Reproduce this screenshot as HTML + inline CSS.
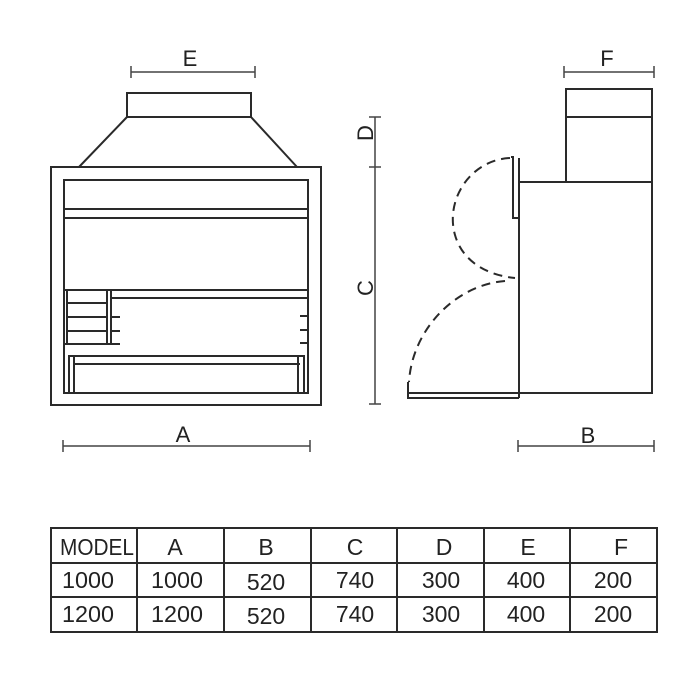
<!DOCTYPE html>
<html><head><style>
body{margin:0;background:#fff;}
svg{display:block}
text{font-family:"Liberation Sans",sans-serif;fill:#222}
</style></head><body>
<svg width="700" height="700" viewBox="0 0 700 700" xmlns="http://www.w3.org/2000/svg">
<g stroke="#2a2a2a" stroke-width="2" fill="none">
<rect x="127" y="93" width="124" height="24"/>
<line x1="127" y1="117" x2="79" y2="167"/>
<line x1="251" y1="117" x2="297" y2="167"/>
<rect x="51" y="167" width="270" height="238"/>
<rect x="64" y="180" width="244" height="213"/>
<line x1="64" y1="209" x2="308" y2="209"/>
<line x1="64" y1="218" x2="308" y2="218"/>
<line x1="64" y1="290" x2="308" y2="290"/>
<line x1="112" y1="298" x2="308" y2="298"/>
<line x1="67" y1="290" x2="67" y2="344"/>
<line x1="107" y1="290" x2="107" y2="344"/>
<line x1="111" y1="290" x2="111" y2="344"/>
<line x1="67" y1="303" x2="107" y2="303"/>
<line x1="67" y1="317" x2="107" y2="317"/>
<line x1="67" y1="331" x2="107" y2="331"/>
<line x1="64" y1="344" x2="120" y2="344"/>
<line x1="111" y1="317" x2="120" y2="317"/>
<line x1="111" y1="331" x2="120" y2="331"/>
<line x1="300" y1="316" x2="308" y2="316"/>
<line x1="300" y1="330" x2="308" y2="330"/>
<line x1="300" y1="343" x2="308" y2="343"/>
<rect x="69" y="356" width="235" height="37"/>
<line x1="73" y1="364" x2="300" y2="364"/>
<line x1="74" y1="356" x2="74" y2="393"/>
<line x1="298" y1="356" x2="298" y2="393"/>
<rect x="566" y="89" width="86" height="93"/>
<line x1="566" y1="117" x2="652" y2="117"/>
<rect x="519" y="182" width="133" height="211"/>
<line x1="519" y1="158" x2="519" y2="398"/>
<polyline points="511,157 513,157 513,218 519,218"/>
<polyline points="408,382 408,398 519,398"/>
<line x1="408" y1="393" x2="519" y2="393"/>
<path d="M510,158 C470,160 445,200 455,235 C462,260 485,275 515,278" stroke-dasharray="9,6"/>
<path d="M505,281 C455,285 412,330 409,382" stroke-dasharray="9,6"/>
<g stroke-width="1.5" stroke="#444">
<line x1="131" y1="72" x2="255" y2="72"/><line x1="131" y1="66" x2="131" y2="78"/><line x1="255" y1="66" x2="255" y2="78"/>
<line x1="564" y1="72" x2="654" y2="72"/><line x1="564" y1="66" x2="564" y2="78"/><line x1="654" y1="66" x2="654" y2="78"/>
<line x1="63" y1="446" x2="310" y2="446"/><line x1="63" y1="440" x2="63" y2="452"/><line x1="310" y1="440" x2="310" y2="452"/>
<line x1="518" y1="446" x2="654" y2="446"/><line x1="518" y1="440" x2="518" y2="452"/><line x1="654" y1="440" x2="654" y2="452"/>
<line x1="375" y1="117" x2="375" y2="404"/><line x1="369" y1="117" x2="381" y2="117"/><line x1="369" y1="167" x2="381" y2="167"/><line x1="369" y1="404" x2="381" y2="404"/>
</g>
<rect x="51" y="528" width="606" height="104"/>
<line x1="51" y1="563" x2="657" y2="563"/>
<line x1="51" y1="597" x2="657" y2="597"/>
<line x1="137" y1="528" x2="137" y2="632"/>
<line x1="224" y1="528" x2="224" y2="632"/>
<line x1="311" y1="528" x2="311" y2="632"/>
<line x1="397" y1="528" x2="397" y2="632"/>
<line x1="484" y1="528" x2="484" y2="632"/>
<line x1="570" y1="528" x2="570" y2="632"/>
</g>
<g font-size="22">
<text x="190" y="66" text-anchor="middle">E</text>
<text x="607" y="66" text-anchor="middle">F</text>
<text x="183" y="442" text-anchor="middle">A</text>
<text x="588" y="443" text-anchor="middle">B</text>
<text transform="translate(373,133) rotate(-90)" text-anchor="middle">D</text>
<text transform="translate(373,288) rotate(-90)" text-anchor="middle">C</text>
</g>
<g font-size="23" text-anchor="middle">
<text x="97" y="555" textLength="74" lengthAdjust="spacingAndGlyphs">MODEL</text>
<text x="175" y="555">A</text><text x="266" y="555">B</text><text x="355" y="555">C</text><text x="444" y="555">D</text><text x="528" y="555">E</text><text x="621" y="555">F</text>
<text x="88" y="588" textLength="52" lengthAdjust="spacingAndGlyphs">1000</text><text x="177" y="588" textLength="52" lengthAdjust="spacingAndGlyphs">1000</text><text x="266" y="590">520</text><text x="355" y="588">740</text><text x="441" y="588">300</text><text x="526" y="588">400</text><text x="613" y="588">200</text>
<text x="88" y="622" textLength="52" lengthAdjust="spacingAndGlyphs">1200</text><text x="177" y="622" textLength="52" lengthAdjust="spacingAndGlyphs">1200</text><text x="266" y="624">520</text><text x="355" y="622">740</text><text x="441" y="622">300</text><text x="526" y="622">400</text><text x="613" y="622">200</text>
</g>
</svg>
</body></html>
